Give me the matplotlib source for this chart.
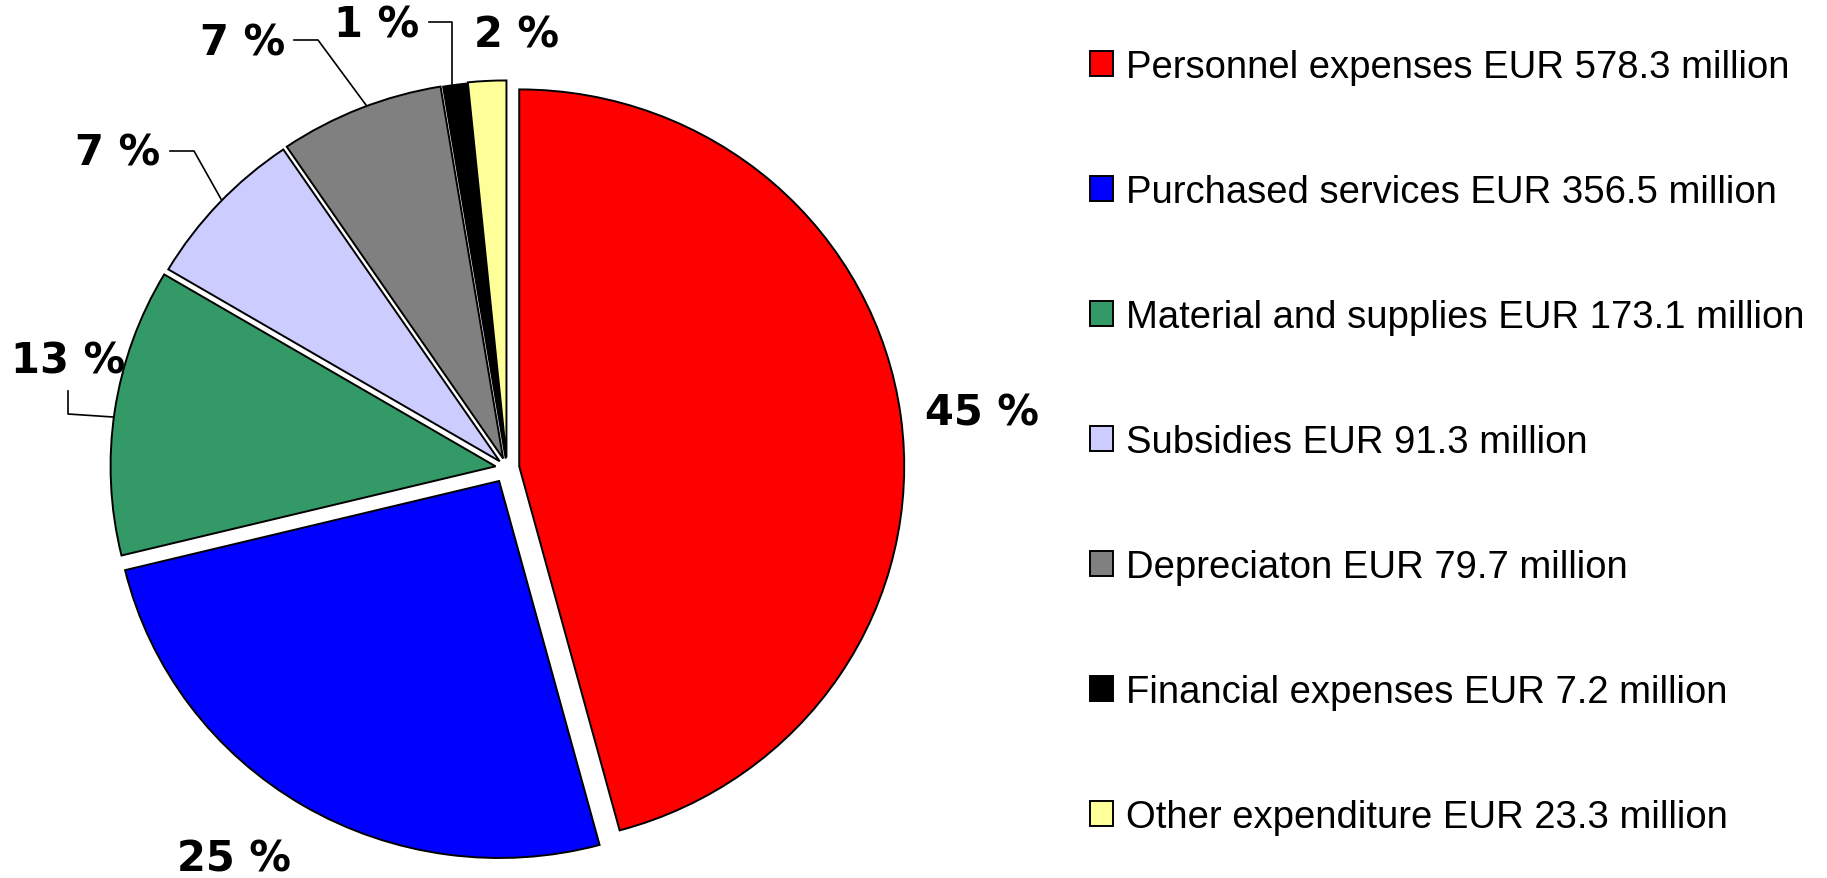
import matplotlib.pyplot as plt
from matplotlib.lines import Line2D
from matplotlib.patches import Patch

categories = ['Personnel expenses', 'Purchased services', 'Material and supplies',
              'Subsidies', 'Depreciaton', 'Financial expenses', 'Other expenditure']
eur_million = [578.3, 356.5, 173.1, 91.3, 79.7, 7.2, 23.3]
# slice sizes as drawn in the picture (%), and the printed percentage labels
slice_share = [45.8, 25.4, 12.3, 7.0, 6.9, 1.0, 1.6]
pct_labels = [45, 25, 13, 7, 7, 1, 2]
colors = ['#FF0000', '#0000FF', '#339966', '#CCCCFF', '#808080', '#000000', '#FFFF99']
explode = [0.032, 0.04, 0.03, 0.026, 0.027, 0.025, 0.028]

W, H = 1827, 879
fig = plt.figure(figsize=(W / 100, H / 100), dpi=100)
ax = fig.add_axes([0, 0, 1, 1])

# pie centre and radii in pixels (from top-left); the original is a bit wider than tall
cx, cy, Rx, Ry = 507, 469, 385, 377

wedges, _ = ax.pie(slice_share, colors=colors, explode=explode, startangle=90,
                   counterclock=False, radius=1,
                   wedgeprops=dict(edgecolor='black', linewidth=1.4))
ax.set_aspect('auto')
ax.set_xlim(-cx / Rx, (W - cx) / Rx)
ax.set_ylim(-(H - cy) / Ry, cy / Ry)
ax.axis('off')


def px(x, y):
    return x / W, 1 - y / H


# percentage labels and leader lines (pixel positions)
label_pos = [(982, 414), (234, 860), (68, 362), (118, 154), (243, 43), (377, 25), (517, 36)]
leaders = [None, None,
           [(68, 392), (68, 415), (113, 418)],
           [(170, 152), (194, 152), (221, 200)],
           [(294, 41), (318, 41), (366, 106)],
           [(429, 23), (452, 23), (452, 85)],
           None]

for s, (x, y), ld in zip(pct_labels, label_pos, leaders):
    fig.text(*px(x, y), f'{s} %', ha='center', va='center',
             fontsize=30, fontweight='bold', family='DejaVu Sans')
    if ld:
        xs, ys = zip(*[px(a, b) for a, b in ld])
        fig.add_artist(Line2D(xs, ys, color='black', lw=1.2, transform=fig.transFigure))

handles = [Patch(facecolor=c, edgecolor='black', linewidth=1.4) for c in colors]
labels = [f'{c} EUR {v} million' for c, v in zip(categories, eur_million)]
fig.legend(handles, labels, loc='upper left', bbox_to_anchor=px(1090, 50),
           frameon=False, prop={'family': 'Liberation Sans', 'size': 27.5},
           handlelength=0.6, handleheight=0.63, handletextpad=0.33,
           labelspacing=2.33, borderaxespad=0, borderpad=0)

plt.savefig('out.png', format='png')
